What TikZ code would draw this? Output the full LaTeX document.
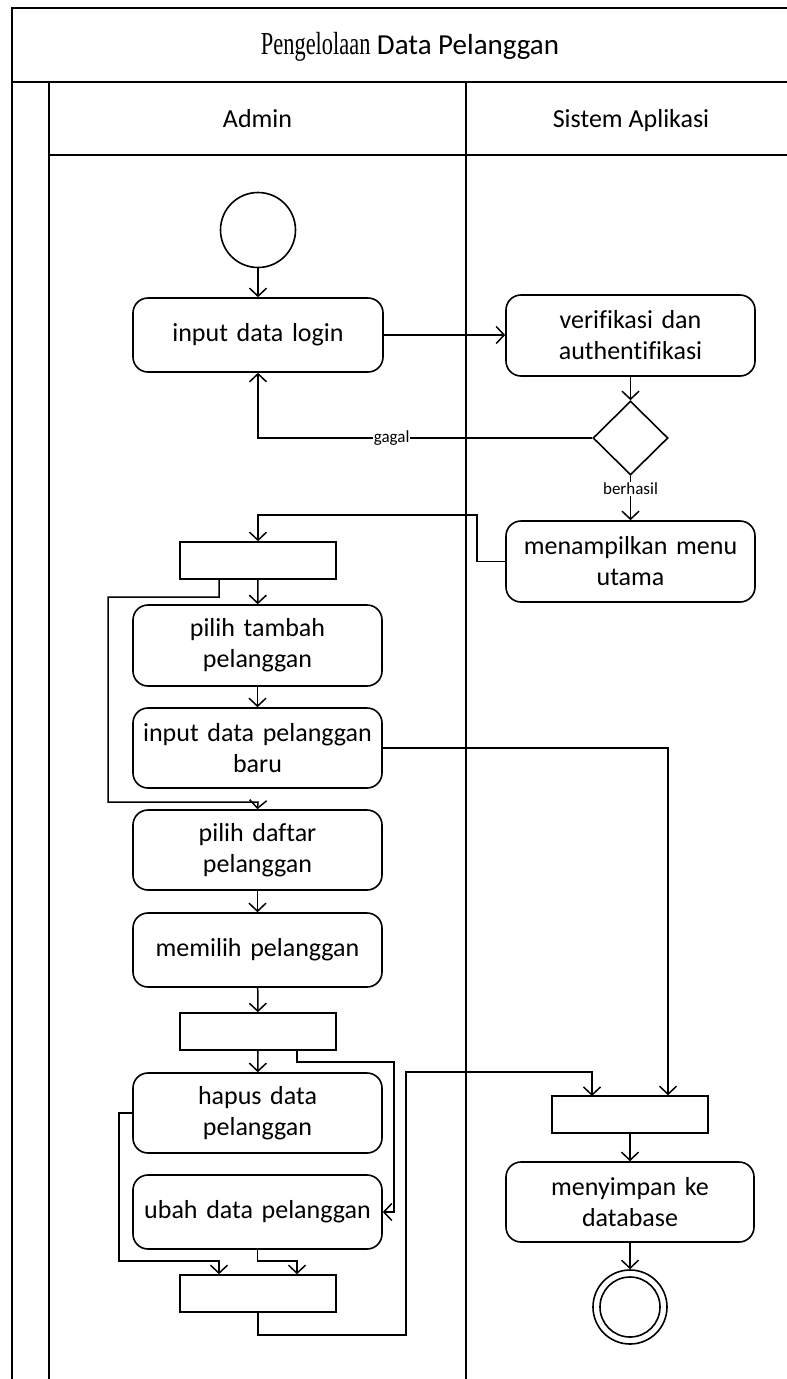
\documentclass[tikz,border=0pt]{standalone}
\usepackage{fontspec}
\usepackage{graphicx}
\setmainfont{Carlito}[Ligatures=NoCommon]
\newfontfamily\titleserif{Liberation Serif}
\usetikzlibrary{arrows.meta,shapes.geometric}

\tikzset{
  frameline/.style={line width=2pt},
  actbox/.style={draw, line width=1.6pt, rounded corners=15pt, align=center,
    text width=235pt, inner sep=0pt, font=\fontsize{26}{31}\selectfont},
  barbox/.style={draw, line width=1.6pt, minimum width=156pt, minimum height=37pt, inner sep=0pt},
  startdot/.style={draw, circle, line width=1.6pt, minimum size=75pt, inner sep=0pt},
  decision/.style={draw, diamond, line width=1.6pt, minimum width=75pt, minimum height=74pt, inner sep=0pt},
  flow/.style={line width=1.5pt, -{Straight Barb[length=8pt,width=17pt]}},
  lbl/.style={fill=white, inner sep=1pt, font=\fontsize{17}{20}\selectfont},
  lanehead/.style={anchor=base, font=\fontsize{26}{31}\selectfont}
}

\begin{document}
\begin{tikzpicture}[x=1pt, y=-1pt]
\useasboundingbox (0,0) rectangle (787,1379);

% swimlane frame
\draw[frameline] (12,1379) -- (12,8) -- (800,8);
\draw[frameline] (12,82) -- (800,82);
\draw[frameline] (49,82) -- (49,1379);
\draw[frameline] (49,155) -- (800,155);
\draw[frameline] (466,82) -- (466,1379);
\draw[frameline] (797,8) -- (797,1379);

\node[anchor=base, font=\fontsize{29}{34}\selectfont] (title) at (410,54) {\scalebox{0.7}[1]{\fontsize{32}{36}\selectfont\titleserif Pengelolaan}\ Data Pelanggan};
\node[lanehead] (admin) at (257.5,127) {Admin};
\node[lanehead] (sistem) at (631,127) {Sistem Aplikasi};

% activities
\node[startdot] (start) at (258,230) {};
\node[actbox, minimum width=250pt, minimum height=74pt] (login) at (258,335) {input data login};
\node[actbox, minimum width=249pt, minimum height=81pt] (verif) at (630.5,335.5) {verifikasi dan\\authentifikasi};
\node[decision] (dec) at (630.5,438) {};
\node[actbox, minimum width=249pt, minimum height=81pt] (menu) at (630.5,561.5) {menampilkan menu\\utama};
\node[barbox] (fork1) at (258,560.5) {};
\node[actbox, minimum width=249pt, minimum height=81pt] (tambah) at (257.5,645.5) {pilih tambah\\pelanggan};
\node[actbox, minimum width=249pt, minimum height=80pt] (baru) at (257.5,748) {input data pelanggan\\baru};
\node[actbox, minimum width=249pt, minimum height=80pt] (daftar) at (257.5,850) {pilih daftar\\pelanggan};
\node[actbox, minimum width=249pt, minimum height=74pt] (memilih) at (257.5,950) {memilih pelanggan};
\node[barbox] (fork2) at (258,1031.5) {};
\node[actbox, minimum width=249pt, minimum height=80pt] (hapus) at (257.5,1113) {hapus data\\pelanggan};
\node[actbox, minimum width=249pt, minimum height=74pt] (ubah) at (257.5,1212) {ubah data pelanggan};
\node[barbox] (join1) at (258,1293.5) {};
\node[barbox] (join2) at (630,1114.5) {};
\node[actbox, minimum width=248pt, minimum height=80pt] (simpan) at (630,1202) {menyimpan ke\\database};
\node[startdot, minimum size=74pt] (end) at (630,1307) {};
\node[draw, circle, line width=1.6pt, minimum size=60pt, inner sep=0pt] (endcore) at (630,1307) {};

% bend points
\coordinate (m1) at (477,515);
\coordinate (f1a) at (219,597);
\coordinate (f1b) at (108,802);
\coordinate (f1c) at (258,802);
\coordinate (b1) at (668,748);
\coordinate (f2a) at (297,1062);
\coordinate (f2b) at (394,1212);
\coordinate (h1) at (119,1261);
\coordinate (u1) at (297,1261);
\coordinate (j1a) at (258,1335);
\coordinate (j1b) at (406,1072);

% connectors
\draw[flow] (start) -- (login);
\draw[flow] (login.east) -- (login.east -| verif.west);
\draw[flow] (verif) -- (dec);
\draw[flow] (dec.west) -- node[lbl, pos=0.6] {gagal} (dec.west -| login.south) -- (login.south);
\draw[flow] (dec.south) -- node[lbl, pos=0.3] {berhasil} (menu.north);
\draw[flow] (menu.west) -| (m1) -| (fork1.north);
\draw[flow] (fork1) -- (tambah);
\draw[flow] (fork1.south -| f1a) -- (f1a) -| (f1b) -- (f1c) -- (daftar.north);
\draw[flow] (tambah) -- (baru);
\draw[flow] (baru.east) -- (b1) -- (b1 |- join2.north);
\draw[flow] (daftar) -- (memilih);
\draw[flow] (memilih) -- (fork2);
\draw[flow] (fork2) -- (hapus);
\draw[flow] (fork2.south -| f2a) -- (f2a) -| (f2b) -- (ubah.east);
\draw[flow] (hapus.west) -| (h1) -| (join1.north -| 219,0);
\draw[flow] (ubah.south) |- (u1) -- (u1 |- join1.north);
\draw[flow] (join1.south) |- (j1a) -| (j1b) -| (592,1096);
\draw[flow] (join2) -- (simpan);
\draw[flow] (simpan) -- (end);
\end{tikzpicture}
\end{document}
